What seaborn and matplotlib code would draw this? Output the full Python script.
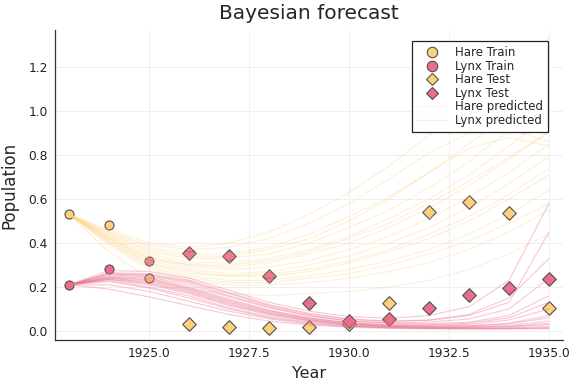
"""Bayesian forecast of hare and lynx populations, drawn with seaborn."""

import matplotlib

matplotlib.use("Agg")
import matplotlib.pyplot as plt
import pandas as pd
import seaborn as sns
from matplotlib.lines import Line2D

HARE_COLOR = "#FDD07B"
LYNX_COLOR = "#EA6D8D"
EDGE_COLOR = "#505050"

train_years = [1923, 1924, 1925]
hare_train = [0.53, 0.48, 0.24]
lynx_train = [0.21, 0.28, 0.32]

test_years = [1926, 1927, 1928, 1929, 1930, 1931, 1932, 1933, 1934, 1935]
hare_test = [0.03, 0.017, 0.012, 0.017, 0.03, 0.129, 0.54, 0.588, 0.536, 0.106]
lynx_test = [0.353, 0.342, 0.25, 0.126, 0.045, 0.056, 0.106, 0.164, 0.197, 0.235]

pred_years = list(range(1923, 1936))

# posterior trajectories at each year
hare_pred = [
    [0.53, 0.36, 0.24, 0.19, 0.17, 0.16, 0.17, 0.18, 0.20, 0.23, 0.28, 0.35, 0.44],
    [0.53, 0.39, 0.28, 0.23, 0.21, 0.21, 0.22, 0.24, 0.27, 0.31, 0.37, 0.45, 0.55],
    [0.53, 0.40, 0.30, 0.25, 0.23, 0.23, 0.25, 0.28, 0.32, 0.37, 0.44, 0.53, 0.64],
    [0.53, 0.41, 0.31, 0.26, 0.25, 0.25, 0.27, 0.31, 0.36, 0.42, 0.50, 0.60, 0.71],
    [0.53, 0.42, 0.32, 0.28, 0.26, 0.27, 0.30, 0.34, 0.40, 0.47, 0.56, 0.67, 0.79],
    [0.53, 0.42, 0.33, 0.29, 0.28, 0.29, 0.32, 0.37, 0.43, 0.51, 0.61, 0.72, 0.85],
    [0.53, 0.43, 0.34, 0.30, 0.29, 0.31, 0.35, 0.40, 0.47, 0.56, 0.66, 0.78, 0.91],
    [0.53, 0.43, 0.35, 0.31, 0.31, 0.33, 0.37, 0.43, 0.51, 0.60, 0.71, 0.84, 0.98],
    [0.53, 0.44, 0.36, 0.33, 0.33, 0.35, 0.40, 0.47, 0.55, 0.65, 0.77, 0.91, 1.05],
    [0.53, 0.45, 0.38, 0.35, 0.35, 0.38, 0.44, 0.52, 0.61, 0.72, 0.85, 0.99, 1.14],
    [0.53, 0.46, 0.40, 0.38, 0.40, 0.45, 0.53, 0.63, 0.75, 0.89, 1.04, 1.19, 1.33],
    [0.53, 0.45, 0.39, 0.37, 0.38, 0.42, 0.49, 0.58, 0.69, 0.81, 0.90, 0.92, 0.86],
    [0.53, 0.44, 0.37, 0.34, 0.34, 0.37, 0.42, 0.50, 0.60, 0.72, 0.83, 0.88, 0.84],
    [0.53, 0.41, 0.31, 0.27, 0.25, 0.26, 0.28, 0.32, 0.37, 0.44, 0.52, 0.62, 0.74],
    [0.53, 0.40, 0.29, 0.24, 0.22, 0.22, 0.24, 0.26, 0.30, 0.35, 0.41, 0.49, 0.58],
    [0.53, 0.42, 0.33, 0.30, 0.30, 0.32, 0.36, 0.42, 0.49, 0.58, 0.68, 0.79, 0.90],
]

lynx_pred = [
    [0.21, 0.26, 0.25, 0.22, 0.16, 0.11, 0.07, 0.045, 0.035, 0.033, 0.04, 0.07, 0.16],
    [0.21, 0.25, 0.24, 0.20, 0.145, 0.095, 0.06, 0.038, 0.028, 0.026, 0.03, 0.05, 0.10],
    [0.21, 0.245, 0.23, 0.19, 0.135, 0.088, 0.055, 0.034, 0.025, 0.022, 0.024, 0.035, 0.07],
    [0.21, 0.24, 0.22, 0.18, 0.125, 0.08, 0.05, 0.03, 0.021, 0.018, 0.019, 0.025, 0.045],
    [0.21, 0.235, 0.21, 0.17, 0.115, 0.073, 0.045, 0.027, 0.019, 0.016, 0.016, 0.019, 0.03],
    [0.21, 0.23, 0.20, 0.16, 0.105, 0.065, 0.04, 0.024, 0.017, 0.014, 0.013, 0.015, 0.022],
    [0.21, 0.225, 0.195, 0.15, 0.10, 0.06, 0.036, 0.022, 0.015, 0.012, 0.011, 0.012, 0.016],
    [0.21, 0.21, 0.18, 0.135, 0.09, 0.055, 0.032, 0.02, 0.014, 0.011, 0.01, 0.011, 0.013],
    [0.21, 0.19, 0.155, 0.115, 0.075, 0.045, 0.027, 0.017, 0.012, 0.01, 0.009, 0.009, 0.01],
    [0.21, 0.265, 0.26, 0.23, 0.175, 0.12, 0.08, 0.055, 0.045, 0.05, 0.075, 0.15, 0.33],
    [0.21, 0.275, 0.27, 0.24, 0.185, 0.13, 0.09, 0.065, 0.058, 0.07, 0.11, 0.23, 0.58],
    [0.21, 0.255, 0.245, 0.21, 0.155, 0.105, 0.068, 0.045, 0.037, 0.04, 0.055, 0.10, 0.24],
    [0.21, 0.245, 0.235, 0.195, 0.14, 0.092, 0.058, 0.037, 0.028, 0.028, 0.035, 0.06, 0.13],
    [0.21, 0.24, 0.225, 0.185, 0.13, 0.084, 0.052, 0.032, 0.023, 0.021, 0.023, 0.032, 0.06],
    [0.21, 0.26, 0.255, 0.225, 0.17, 0.115, 0.076, 0.052, 0.043, 0.048, 0.07, 0.13, 0.45],
    [0.21, 0.235, 0.215, 0.175, 0.12, 0.077, 0.047, 0.028, 0.02, 0.017, 0.017, 0.021, 0.035],
]


def long_table(trajectories):
    rows = []
    for draw, values in enumerate(trajectories):
        for year, value in zip(pred_years, values):
            rows.append({"year": year, "pop": value, "draw": draw})
    return pd.DataFrame(rows)


sns.set_theme(style="white")
plt.rcParams["font.family"] = ["DejaVu Sans"]

fig = plt.figure(figsize=(5.76, 3.84), dpi=100)
ax = fig.add_axes([55 / 576, 1 - 340 / 384, 508 / 576, 310 / 384])

marker_kw = dict(edgecolor=EDGE_COLOR, linewidth=0.8, legend=False, ax=ax)
sns.scatterplot(x=train_years, y=hare_train, color=HARE_COLOR, marker="o", s=42, **marker_kw)
sns.scatterplot(x=train_years, y=lynx_train, color=LYNX_COLOR, marker="o", s=42, **marker_kw)
sns.scatterplot(x=test_years, y=hare_test, color=HARE_COLOR, marker="D", s=48, **marker_kw)
sns.scatterplot(x=test_years, y=lynx_test, color=LYNX_COLOR, marker="D", s=48, **marker_kw)

line_kw = dict(x="year", y="pop", units="draw", estimator=None, lw=0.8, legend=False, ax=ax)
sns.lineplot(data=long_table(hare_pred), color=HARE_COLOR, alpha=0.32, **line_kw)
sns.lineplot(data=long_table(lynx_pred), color=LYNX_COLOR, alpha=0.38, **line_kw)

ax.set_xlim(1922.65, 1935.35)
ax.set_ylim(-0.041, 1.368)
ax.set_xticks([1925.0, 1927.5, 1930.0, 1932.5, 1935.0])
ax.set_xticklabels(["1925.0", "1927.5", "1930.0", "1932.5", "1935.0"])
ax.set_yticks([0.0, 0.2, 0.4, 0.6, 0.8, 1.0, 1.2])
ax.set_yticklabels(["0.0", "0.2", "0.4", "0.6", "0.8", "1.0", "1.2"])
ax.tick_params(direction="in", length=3, width=0.8, labelsize=8.8, colors="#222222", pad=5)
ax.grid(True, color="#ececec", linewidth=0.6)
for side in ["top", "right"]:
    ax.spines[side].set_visible(False)
for side in ["left", "bottom"]:
    ax.spines[side].set_color("#333333")
    ax.spines[side].set_linewidth(0.9)

ax.set_xlabel("Year", fontsize=11.5, labelpad=4)
ax.set_ylabel("Population", fontsize=12, labelpad=7)
ax.set_title("Bayesian forecast", fontsize=14.5, pad=8)

handles = [
    Line2D([], [], ls="", marker="o", ms=7.5, mfc=HARE_COLOR, mec=EDGE_COLOR, mew=0.8),
    Line2D([], [], ls="", marker="o", ms=7.5, mfc=LYNX_COLOR, mec=EDGE_COLOR, mew=0.8),
    Line2D([], [], ls="", marker="D", ms=6.5, mfc=HARE_COLOR, mec=EDGE_COLOR, mew=0.8),
    Line2D([], [], ls="", marker="D", ms=6.5, mfc=LYNX_COLOR, mec=EDGE_COLOR, mew=0.8),
    Line2D([], [], color=HARE_COLOR, alpha=0.15, lw=0.8),
    Line2D([], [], color=LYNX_COLOR, alpha=0.15, lw=0.8),
]
labels = ["Hare Train", "Lynx Train", "Hare Test", "Lynx Test", "Hare predicted", "Lynx predicted"]
leg = ax.legend(
    handles, labels, loc="upper right", bbox_to_anchor=(0.9705, 0.9645),
    fontsize=8.5, frameon=True, fancybox=False, framealpha=1, edgecolor="#222222",
    borderpad=0.45, labelspacing=0.04, handlelength=2.6, handletextpad=0.6,
    borderaxespad=0,
)
leg.get_frame().set_linewidth(0.9)

fig.savefig("out.png", dpi=100)
